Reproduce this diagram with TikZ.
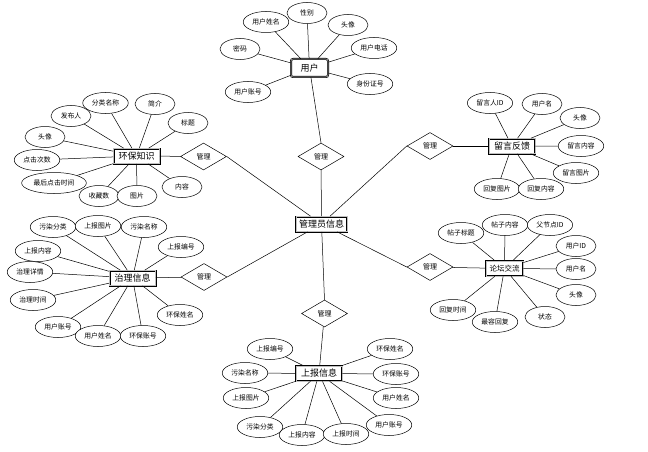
\documentclass[tikz,border=0pt]{standalone}
\usepackage{fontspec}
\newfontfamily\cjk{Noto Sans CJK SC}
\usetikzlibrary{shapes.geometric}

\begin{document}
\begin{tikzpicture}[x=1pt,y=-1pt,font=\cjk]
  \tikzset{
    ent/.style={draw,double=gray!50,double distance=0.6pt,line width=0.7pt,fill=white,
                minimum width=46pt,minimum height=15pt,inner xsep=3pt,inner ysep=0pt,
                font=\cjk\fontsize{9}{10}\selectfont},
    attr/.style={ellipse,draw,line width=0.5pt,fill=white,minimum width=40pt,
                 minimum height=21pt,inner xsep=2.5pt,inner ysep=0pt,
                 font=\cjk\fontsize{6.8}{7}\selectfont},
    rel/.style={diamond,draw,line width=0.5pt,fill=white,minimum width=46pt,
                minimum height=27pt,inner sep=0pt,font=\cjk\fontsize{7}{8}\selectfont},
    ln/.style={line width=0.5pt}
  }
  \useasboundingbox (0,0) rectangle (648,452);

  % centre
  \node[ent] (m) at (321.5,224) {管理员信息};

  % user
  \node[ent,rounded corners=2pt,minimum width=37pt,minimum height=18pt] (u) at (309.5,68) {用户};
  \node[attr] (u1) at (266,22) {用户姓名};
  \node[attr] (u2) at (307,13) {性别};
  \node[attr] (u3) at (348,25) {头像};
  \node[attr] (u4) at (374,48) {用户电话};
  \node[attr] (u5) at (370,84) {身份证号};
  \node[attr] (u6) at (248,92) {用户账号};
  \node[attr] (u7) at (240,49) {密码};
  \node[rel] (du) at (321,156.5) {管理};

  % knowledge
  \node[ent] (k) at (136.5,156) {环保知识};
  \node[attr] (k1) at (105.5,103) {分类名称};
  \node[attr] (k2) at (155,104) {简介};
  \node[attr] (k3) at (71,116) {发布人};
  \node[attr] (k4) at (188,123) {标题};
  \node[attr] (k5) at (45,137) {头像};
  \node[attr] (k6) at (37,160) {点击次数};
  \node[attr] (k7) at (54,183) {最后点击时间};
  \node[attr] (k8) at (99,196) {收藏数};
  \node[attr] (k9) at (137,196) {图片};
  \node[attr] (k10) at (182,187) {内容};
  \node[rel] (dk) at (203.5,156.5) {管理};

  % feedback
  \node[ent] (f) at (512,146) {留言反馈};
  \node[attr] (f1) at (490,103) {留言人ID};
  \node[attr] (f2) at (542,104) {用户名};
  \node[attr] (f3) at (580,118) {头像};
  \node[attr] (f4) at (581,146) {留言内容};
  \node[attr] (f5) at (576,173) {留言图片};
  \node[attr] (f6) at (497,189) {回复图片};
  \node[attr] (f7) at (541,189) {回复内容};
  \node[rel] (df) at (430,146) {管理};

  % forum
  \node[ent,minimum width=37pt,font=\cjk\fontsize{7.5}{8}\selectfont] (t) at (504.5,268.5) {论坛交流};
  \node[attr] (t1) at (461,233) {帖子标题};
  \node[attr] (t2) at (505,225) {帖子内容};
  \node[attr] (t3) at (550,225) {父节点ID};
  \node[attr] (t4) at (576,246) {用户ID};
  \node[attr] (t5) at (576,269) {用户名};
  \node[attr] (t6) at (576,295) {头像};
  \node[attr] (t7) at (453,310) {回复时间};
  \node[attr] (t8) at (495,322) {最容回复};
  \node[attr] (t9) at (545,317) {状态};
  \node[rel] (dt) at (430,267) {管理};

  % governance
  \node[ent] (g) at (132.5,278) {治理信息};
  \node[attr] (g1) at (53,227) {污染分类};
  \node[attr] (g2) at (98,226) {上报图片};
  \node[attr] (g3) at (144,227) {污染名称};
  \node[attr] (g4) at (181,247) {上报编号};
  \node[attr] (g5) at (38,251) {上报内容};
  \node[attr] (g6) at (30,272) {治理详情};
  \node[attr] (g7) at (33,300) {治理时间};
  \node[attr] (g8) at (58,327) {用户账号};
  \node[attr] (g9) at (98,336) {用户姓名};
  \node[attr] (g10) at (143,336) {环保账号};
  \node[attr] (g11) at (180,315) {环保姓名};
  \node[rel] (dg) at (204,277) {管理};

  % report
  \node[ent] (r) at (319,373.5) {上报信息};
  \node[attr] (r1) at (270,349) {上报编号};
  \node[attr] (r2) at (245,373) {污染名称};
  \node[attr] (r3) at (246,398) {上报图片};
  \node[attr] (r4) at (260,427) {污染分类};
  \node[attr] (r5) at (302,435) {上报内容};
  \node[attr] (r6) at (346,434) {上报时间};
  \node[attr] (r7) at (390,349) {环保姓名};
  \node[attr] (r8) at (396,374) {环保账号};
  \node[attr] (r9) at (396,398) {用户姓名};
  \node[attr] (r10) at (389,425) {用户账号};
  \node[rel] (dr) at (324.5,313.5) {管理};

  % relations
  \draw[ln] (u) -- (du.north);
  \draw[ln] (du) -- (m);
  \draw[ln] (k) -- (dk);
  \draw[ln] (dk.east) -- (m);
  \draw[ln] (f) -- (df);
  \draw[ln] (df.west) -- (m);
  \draw[ln] (t) -- (dt);
  \draw[ln] (dt.west) -- (m);
  \draw[ln] (g) -- (dg);
  \draw[ln] (dg.east) -- (m);
  \draw[ln] (r) -- (dr);
  \draw[ln] (dr.north) -- (m);

  % attributes
  \draw[ln] (u) -- (u1) (u) -- (u2) (u) -- (u3) (u) -- (u4) (u) -- (u5) (u) -- (u6) (u) -- (u7);
  \draw[ln] (k) -- (k1) (k) -- (k2) (k) -- (k3) (k) -- (k4) (k) -- (k5) (k) -- (k6)
            (k) -- (k7) (k) -- (k8) (k) -- (k9) (k) -- (k10);
  \draw[ln] (f) -- (f1) (f) -- (f2) (f) -- (f3) (f) -- (f4) (f) -- (f5) (f) -- (f6) (f) -- (f7);
  \draw[ln] (t) -- (t1) (t) -- (t2) (t) -- (t3) (t) -- (t4) (t) -- (t5) (t) -- (t6)
            (t) -- (t7) (t) -- (t8) (t) -- (t9);
  \draw[ln] (g) -- (g1) (g) -- (g2) (g) -- (g3) (g) -- (g4) (g) -- (g5) (g) -- (g6)
            (g) -- (g7) (g) -- (g8) (g) -- (g9) (g) -- (g10) (g) -- (g11);
  \draw[ln] (r) -- (r1) (r) -- (r2) (r) -- (r3) (r) -- (r4) (r) -- (r5) (r) -- (r6)
            (r) -- (r7) (r) -- (r8) (r) -- (r9) (r) -- (r10);
\end{tikzpicture}
\end{document}
